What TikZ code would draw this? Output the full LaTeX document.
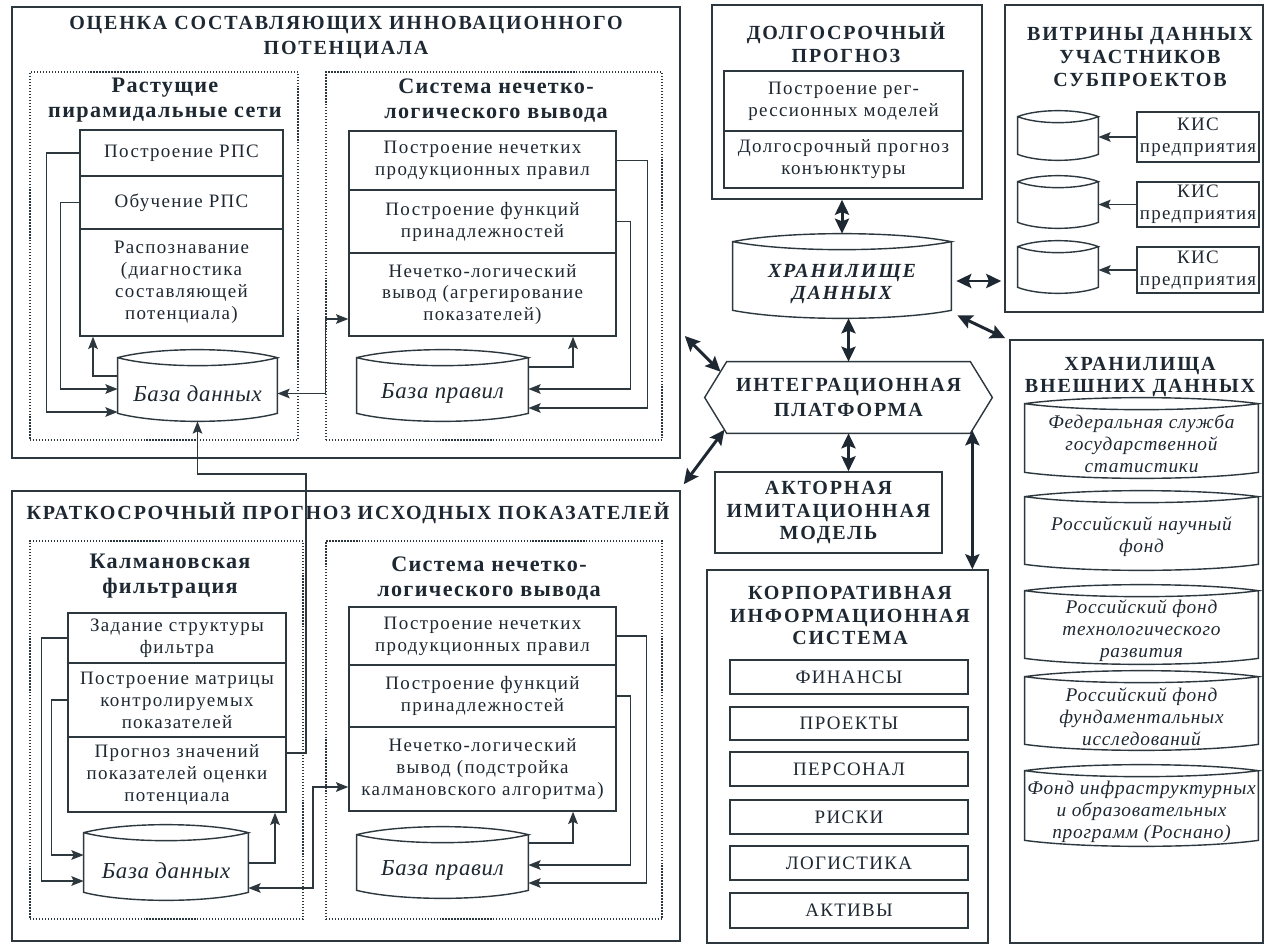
\documentclass[tikz,border=0pt]{standalone}
\usepackage{fontspec}
\setmainfont{Liberation Serif}
\usetikzlibrary{calc,arrows.meta}
\definecolor{ink}{RGB}{30,40,50}
\definecolor{wire}{RGB}{45,55,62}
\newcommand\bodyf{\fontsize{10.8}{12.5}\selectfont\addfontfeature{LetterSpace=7}}
\newcommand\subf{\fontsize{12.6}{14.2}\selectfont\bfseries\addfontfeature{LetterSpace=6}}
\newcommand\capf{\fontsize{11.4}{13}\selectfont\bfseries\addfontfeature{LetterSpace=9}}
\newcommand\dbf{\fontsize{13}{15}\selectfont\itshape\addfontfeature{LetterSpace=3}}
\newcommand\extf{\fontsize{11}{12.5}\selectfont\itshape\addfontfeature{LetterSpace=4}}
% rectangular node given by its corners: style, x1, y1, x2, y2, name
\newcommand\rbox[6]{\node[#1,minimum width={(#4-#2)*0.02cm},minimum height={(#5-#3)*0.02cm}] (#6) at ({(#2+#4)/2},{(#3+#5)/2})}
% cylinder outline around a node: #1 node name, #2 bulge of the arcs
\newcommand\cylout[2]{%
  \draw[ln] ($(#1.north west)+(0,-#2)$)
    .. controls ($(#1.north west)!0.25!(#1.north east)+(0,-7*#2/3)$) and ($(#1.north west)!0.75!(#1.north east)+(0,-7*#2/3)$) .. ($(#1.north east)+(0,-#2)$)
    .. controls ($(#1.north west)!0.75!(#1.north east)+(0,#2/3)$) and ($(#1.north west)!0.25!(#1.north east)+(0,#2/3)$) .. ($(#1.north west)+(0,-#2)$)
    -- ($(#1.south west)+(0,-#2)$)
    .. controls ($(#1.south west)!0.25!(#1.south east)+(0,#2/3)$) and ($(#1.south west)!0.75!(#1.south east)+(0,#2/3)$) .. ($(#1.south east)+(0,-#2)$)
    -- ($(#1.north east)+(0,-#2)$);}
\begin{document}
\begin{tikzpicture}[x=0.02cm,y=-0.02cm,
  ln/.style={draw=wire,line width=0.8pt},
  blk/.style={draw=wire,line width=0.8pt,inner sep=0pt,align=center,text=ink,font=\bodyf},
  panel/.style={draw=wire,line width=0.9pt,inner sep=0pt},
  dotbox/.style={draw=wire,line width=0.7pt,densely dotted,inner sep=0pt},
  ttl/.style={align=center,text=ink,font=\capf,inner sep=0pt},
  sttl/.style={align=center,text=ink,font=\subf,inner sep=0pt},
  cyl/.style={inner sep=0pt,align=center,text=ink,font=\dbf},
  ecyl/.style={inner sep=0pt,align=center,text=ink,font=\extf},
  tip/.style={Stealth[length=7pt,width=5.5pt,inset=1.3pt]},
  arr/.style={draw=wire,line width=0.8pt,-{Stealth[length=7pt,width=5.5pt,inset=1.3pt]}},
  darr/.style={draw=wire,line width=0.8pt,{Stealth[length=7pt,width=5.5pt,inset=1.3pt]}-{Stealth[length=7pt,width=5.5pt,inset=1.3pt]}},
  tarr/.style={draw=ink,line width=1.7pt,{Stealth[length=8.5pt,width=8pt,inset=1.5pt]}-{Stealth[length=8.5pt,width=8pt,inset=1.5pt]}}]

\fill[white] (0,0) rectangle (1267,946);
\useasboundingbox (0,0) rectangle (1267,946);

% ---------- assessment of innovation potential ----------
\rbox{panel}{12}{7}{680}{458}{p1} {};
\node[ttl] (p1t) at (346,37.5) {ОЦЕНКА СОСТАВЛЯЮЩИХ ИННОВАЦИОННОГО\\[1.2pt]ПОТЕНЦИАЛА};
\rbox{dotbox}{30}{72}{298}{440}{d1} {};
\node[sttl] (d1t) at (165,100.5) {Растущие\\пирамидальные сети};
\rbox{blk}{80}{130}{283}{176}{a1} {Построение РПС};
\rbox{blk}{80}{176}{283}{229}{a2} {Обучение РПС};
\rbox{blk}{80}{229}{283}{336}{a3} {Распознавание\\(диагностика\\составляющей\\потенциала)};
\rbox{cyl}{118}{366}{277}{421}{db1} {База данных};
\cylout{db1}{8}

\rbox{dotbox}{326}{72}{662}{440}{d2} {};
\node[sttl] (d2t) at (496,100.5) {Система нечетко-\\логического вывода};
\rbox{blk}{349}{131}{616}{190}{b1} {Построение нечетких\\продукционных правил};
\rbox{blk}{349}{190}{616}{253}{b2} {Построение функций\\принадлежностей};
\rbox{blk}{349}{253}{616}{336}{b3} {Нечетко-логический\\вывод (агрегирование\\показателей)};
\rbox{cyl}{357}{366}{528}{421}{db2} {База правил};
\cylout{db2}{8}

\draw[arr] (a1.west) -- ++(-33,0) |- (db1.west |- 0,412);
\draw[arr] (a2.west) -- ++(-19,0) |- (db1.west |- 0,389);
\draw[arr] (db1.west |- 0,376) -| (a3.south -| 93,0);
\draw[darr] (db1.east) -- ++(48,0) |- (b3.west |- 0,319);
\draw[arr] (b1.east) -- ++(31,0) |- (db2.east |- 0,408);
\draw[arr] (b2.east) -- ++(14,0) |- (db2.east |- 0,389);
\draw[arr] (db2.east |- 0,367) -| (b3.south -| 573,0);

% ---------- short-term forecast ----------
\rbox{panel}{12}{491}{680}{941}{p2} {};
\node[ttl] (p2t) at (348,513) {КРАТКОСРОЧНЫЙ ПРОГНОЗ ИСХОДНЫХ ПОКАЗАТЕЛЕЙ};
\rbox{dotbox}{30}{541}{303}{919}{d3} {};
\node[sttl] (d3t) at (170,576.5) {Калмановская\\фильтрация};
\rbox{blk}{68}{613}{286}{663}{f1} {Задание структуры\\фильтра};
\rbox{blk}{68}{663}{286}{737}{f2} {Построение матрицы\\контролируемых\\показателей};
\rbox{blk}{68}{737}{286}{812}{f3} {Прогноз значений\\показателей оценки\\потенциала};
\rbox{cyl}{84}{841}{248}{900}{db3} {База данных};
\cylout{db3}{8}

\rbox{dotbox}{326}{541}{662}{919}{d4} {};
\node[sttl] (d4t) at (489,578.5) {Система нечетко-\\логического вывода};
\rbox{blk}{349}{607}{616}{665}{g1} {Построение нечетких\\продукционных правил};
\rbox{blk}{349}{665}{616}{727}{g2} {Построение функций\\принадлежностей};
\rbox{blk}{349}{727}{616}{811}{g3} {Нечетко-логический\\вывод (подстройка\\калмановского алгоритма)};
\rbox{cyl}{357}{843}{528}{898}{db4} {База правил};
\cylout{db4}{8}

\draw[arr] (f1.west) -- ++(-26,0) |- (db3.west |- 0,881);
\draw[arr] (f2.west) -- ++(-16,0) |- (db3.west |- 0,855);
\draw[arr] (db3.east |- 0,863) -| (f3.south -| 275,0);
\draw[darr] (db3.east |- 0,888) -- (313,888) |- (g3.west |- 0,787);
\draw[arr] (g1.east) -- ++(30,0) |- (db4.east |- 0,883);
\draw[arr] (g2.east) -- ++(14,0) |- (db4.east |- 0,865);
\draw[arr] (db4.east |- 0,843) -| (g3.south -| 573,0);
\draw[arr] (f3.east |- 0,753) -| (306,474) -| (db1.south);

% ---------- centre column ----------
\rbox{panel}{712}{5}{982}{199}{lt} {};
\node[ttl] (ltt) at (846,42.5) {ДОЛГОСРОЧНЫЙ\\ПРОГНОЗ};
\rbox{blk}{724}{71}{963}{131}{lt1} {Построение рег-\\рессионных моделей};
\rbox{blk}{724}{131}{963}{188}{lt2} {Долгосрочный прогноз\\конъюнктуры};

\rbox{cyl,font=\capf\itshape}{733}{250}{951}{318}{dw} {ХРАНИЛИЩЕ\\ДАННЫХ};
\cylout{dw}{8}

\rbox{ttl}{727}{362}{970}{433}{hex} {ИНТЕГРАЦИОННАЯ\\[1.2pt]ПЛАТФОРМА};
\coordinate (hexL) at ($(hex.west)+(-22,0)$);
\coordinate (hexR) at ($(hex.east)+(22,0)$);
\draw[ln] (hex.north west) -- (hex.north east) -- (hexR) -- (hex.south east) -- (hex.south west) -- (hexL) -- cycle;

\rbox{panel,ttl}{715}{472}{942}{553}{act} {АКТОРНАЯ\\ИМИТАЦИОННАЯ\\МОДЕЛЬ};

\rbox{panel}{707}{570}{988}{943}{kis} {};
\node[ttl] (kist) at (850,615.5) {КОРПОРАТИВНАЯ\\ИНФОРМАЦИОННАЯ\\СИСТЕМА};
\rbox{blk}{730}{660}{968}{694}{k1} {ФИНАНСЫ};
\rbox{blk}{730}{707}{968}{740}{k2} {ПРОЕКТЫ};
\rbox{blk}{730}{752}{968}{786}{k3} {ПЕРСОНАЛ};
\rbox{blk}{730}{800}{968}{834}{k4} {РИСКИ};
\rbox{blk}{730}{846}{968}{880}{k5} {ЛОГИСТИКА};
\rbox{blk}{730}{893}{968}{928}{k6} {АКТИВЫ};

% ---------- subproject data marts ----------
\rbox{panel}{1005}{5}{1263}{312}{vit} {};
\node[ttl] (vitt) at (1140,57) {ВИТРИНЫ ДАННЫХ\\УЧАСТНИКОВ\\СУБПРОЕКТОВ};
\rbox{cyl}{1018}{123}{1098}{160}{vc1} {};
\rbox{cyl}{1018}{188}{1098}{228}{vc2} {};
\rbox{cyl}{1018}{253}{1098}{293}{vc3} {};
\cylout{vc1}{6}\cylout{vc2}{6}\cylout{vc3}{6}
\rbox{blk}{1137}{112}{1259}{162}{v1} {КИС\\предприятия};
\rbox{blk}{1137}{182}{1259}{227}{v2} {КИС\\предприятия};
\rbox{blk}{1137}{247}{1259}{293}{v3} {КИС\\предприятия};
\draw[arr] (v1.west) -- (vc1.east |- v1.west);
\draw[arr] (v2.west) -- (vc2.east |- v2.west);
\draw[arr] (v3.west) -- (vc3.east |- v3.west);

% ---------- external data stores ----------
\rbox{panel}{1010}{340}{1263}{943}{ext} {};
\node[ttl] (extt) at (1140,377) {ХРАНИЛИЩА\\ВНЕШНИХ ДАННЫХ};
\rbox{ecyl}{1025}{410}{1258}{478}{e1} {Федеральная служба\\государственной\\статистики};
\rbox{ecyl}{1025}{503}{1258}{570}{e2} {Российский научный\\фонд};
\rbox{ecyl}{1025}{597}{1258}{664}{e3} {Российский фонд\\технологического\\развития};
\rbox{ecyl}{1025}{683}{1258}{750}{e4} {Российский фонд\\фундаментальных\\исследований};
\rbox{ecyl}{1025}{777}{1258}{846}{e5} {Фонд инфраструктурных\\и образовательных\\программ (Роснано)};
\cylout{e1}{6}\cylout{e2}{6}\cylout{e3}{6}\cylout{e4}{6}\cylout{e5}{6}

% ---------- links of the integration platform ----------
\draw[tarr] (lt.south -| dw.north) -- ($(dw.north)+(0,-16)$);
\draw[tarr] (dw.south -| hex.north) -- (hex.north);
\draw[tarr] (hex.south) -- (act.north -| hex.south);
\coordinate (hk) at ($(hex.south east)+(2,-3)$);
\draw[tarr] (hk) -- (kis.north -| hk);
\draw[tarr] ($(p1.east |- 0,336)+(4,0)$) -- ($(hexL)!0.72!(hex.north west)$);
\draw[tarr] ($(p2.north east)+(3,-6)$) -- ($(hexL)!0.9!(hex.south west)$);
\draw[tarr] ($(dw.east)+(5,-3)$) -- ($(vit.west |- dw.east)+(-3,-3)$);
\draw[tarr] ($(dw.south east)+(6,-3)$) -- ($(ext.north west)+(-4,-1)$);
\end{tikzpicture}
\end{document}
